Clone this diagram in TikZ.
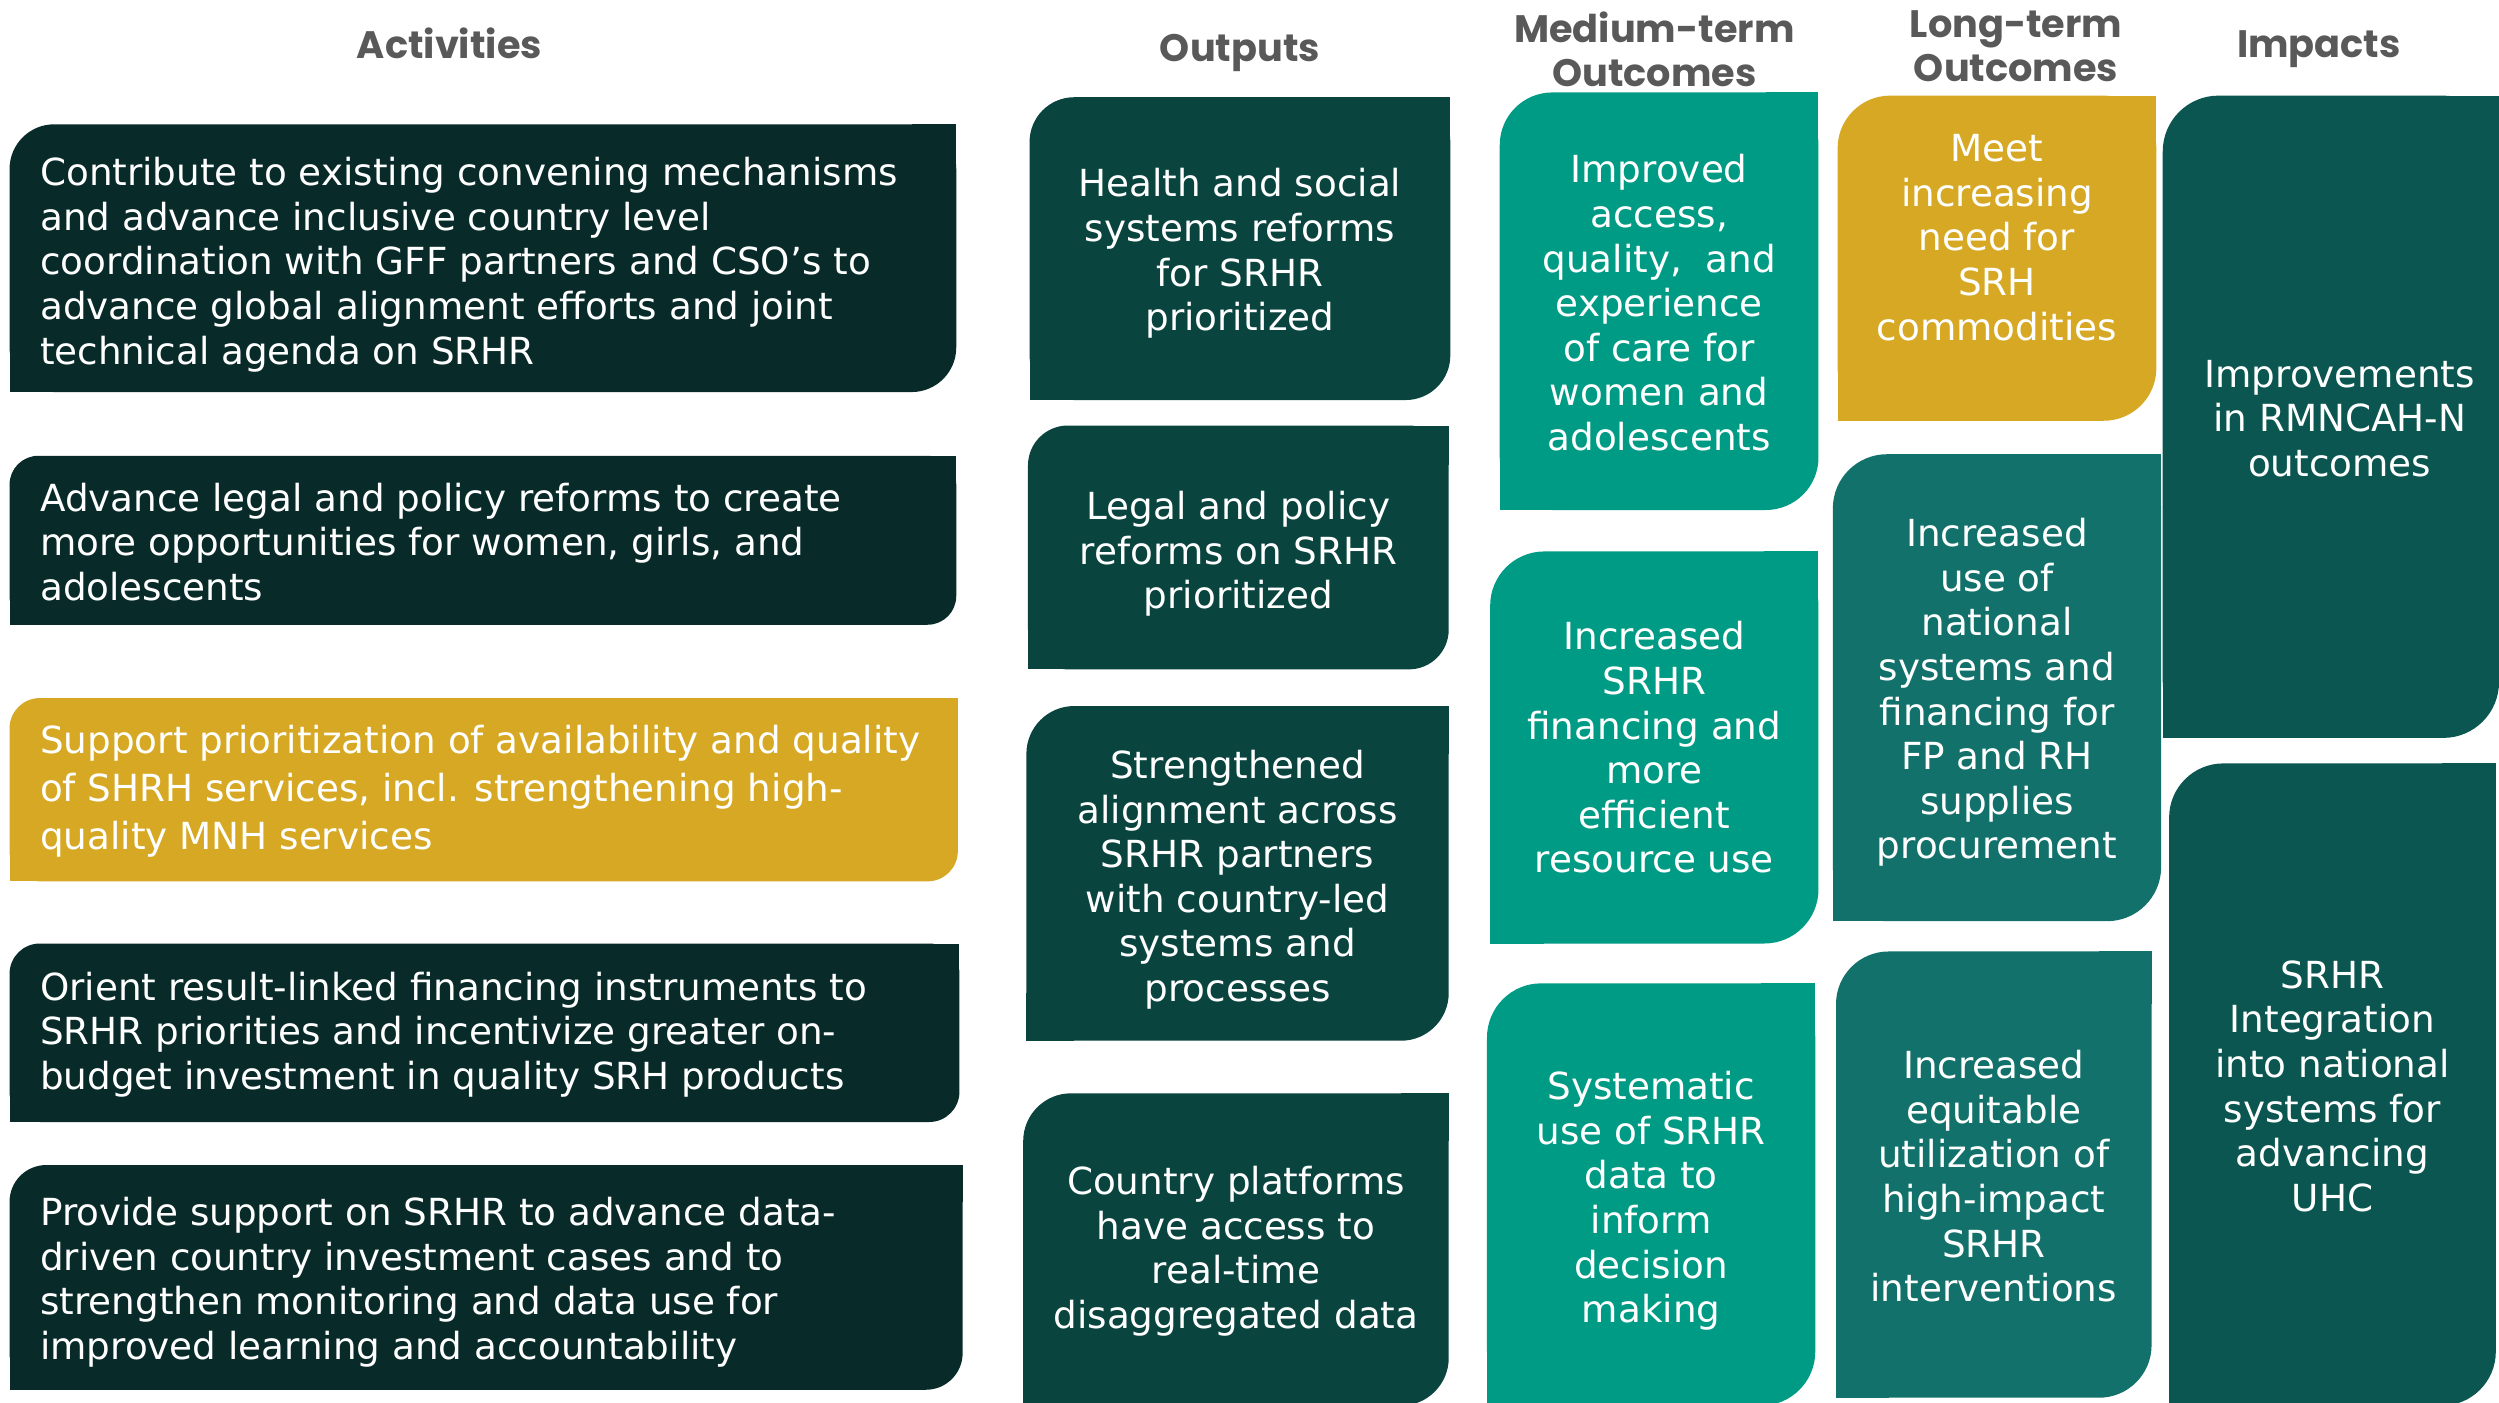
\documentclass[tikz,border=0pt]{standalone}
\usepackage{fontspec}
\setmainfont{DejaVu Sans}
\newfontfamily\headfont{Poppins}
\usetikzlibrary{calc}

\definecolor{actdark}{HTML}{082B29}
\definecolor{gold}{HTML}{D6A823}
\definecolor{outteal}{HTML}{0A443E}
\definecolor{midteal}{HTML}{009B84}
\definecolor{longteal}{HTML}{12716A}
\definecolor{impteal}{HTML}{0B5650}
\definecolor{headgrey}{HTML}{595959}

% box with rounded top left and bottom right corners: x1,y1,x2,y2,colour,radius
\newcommand{\lmbox}[6]{%
  \fill[#5, rounded corners=#6] (#1,#2) rectangle (#3,#4);
  \fill[#5] (#3,#2) rectangle ($(#3,#2)+(-#6,#6)$);
  \fill[#5] (#1,#4) rectangle ($(#1,#4)+(#6,-#6)$);
}

\tikzset{
  boxtext/.style={font=\fontsize{23.4}{28}\selectfont, text=white, inner sep=0pt},
  acttext/.style={boxtext, anchor=west, align=left},
  ctrtext/.style={boxtext, align=center},
  headtext/.style={font=\headfont\bfseries\fontsize{24}{28}\selectfont, text=headgrey, align=center, inner sep=0pt}
}

\begin{document}
\begin{tikzpicture}[x=1pt,y=1pt,yscale=-1]
\useasboundingbox (0,0) rectangle (1568,880);

%Shapes: Activities
\lmbox{6}{78}{600}{246}{actdark}{28}
\lmbox{6}{286}{600}{392}{actdark}{18}
\lmbox{6}{438}{601}{553}{gold}{19}
\lmbox{6}{592}{602}{704}{actdark}{19}
\lmbox{6}{731}{604}{872}{actdark}{23}
%Shapes: Outputs
\lmbox{646}{61}{910}{251}{outteal}{28}
\lmbox{645}{267}{909}{420}{outteal}{25}
\lmbox{644}{443}{909}{653}{outteal}{30}
\lmbox{642}{686}{909}{882}{outteal}{30}
%Shapes: Medium-term outcomes
\lmbox{941}{58}{1141}{320}{midteal}{33}
\lmbox{935}{346}{1141}{592}{midteal}{34}
\lmbox{933}{617}{1139}{882}{midteal}{34}
%Shapes: Long-term outcomes
\lmbox{1153}{60}{1353}{264}{gold}{33}
\lmbox{1150}{285}{1356}{578}{longteal}{34}
\lmbox{1152}{597}{1350}{877}{longteal}{33}
%Shapes: Impacts
\lmbox{1357}{60}{1568}{463}{impteal}{35}
\lmbox{1361}{479}{1566}{882}{impteal}{34}

% Text Node: headers
\node[headtext] (hact) at (282,27) {Activities};
\node[headtext] (hout) at (778,33) {Outputs};
\node[headtext] (hmid) at (1038,31) {Medium-term\\Outcomes};
\node[headtext] (hlong) at (1265,29) {Long-term\\Outcomes};
\node[headtext] (himp) at (1455,31) {Impacts};

% Text Node: activities
\node[acttext] (act1) at (25,166)
  {Contribute to existing convening mechanisms\\and advance inclusive country level\\coordination with GFF partners and CSO’s to\\advance global alignment efforts and joint\\technical agenda on SRHR};
\node[acttext] (act2) at (25,340)
  {Advance legal and policy reforms to create\\more opportunities for women, girls, and\\adolescents};
\node[acttext, font=\fontsize{23.4}{30}\selectfont] (act3) at (25,496.5)
  {Support prioritization of availability and quality\\of SHRH services, incl. strengthening high-\\quality MNH services};
\node[acttext] (act4) at (25,649)
  {Orient result-linked financing instruments to\\SRHR priorities and incentivize greater on-\\budget investment in quality SRH products};
\node[acttext] (act5) at (25,804.5)
  {Provide support on SRHR to advance data-\\driven country investment cases and to\\strengthen monitoring and data use for\\improved learning and accountability};

% Text Node: outputs
\node[ctrtext] (out1) at (778,159)
  {Health and social\\systems reforms\\for SRHR\\prioritized};
\node[ctrtext] (out2) at (777,347.5)
  {Legal and policy\\reforms on SRHR\\prioritized};
\node[ctrtext] (out3) at (776.5,552)
  {Strengthened\\alignment across\\SRHR partners\\with country-led\\systems and\\processes};
\node[ctrtext] (out4) at (775.5,785)
  {Country platforms\\have access to\\real-time\\disaggregated data};

% Text Node: medium-term outcomes
\node[ctrtext] (mid1) at (1041,190)
  {Improved\\access,\\quality,\ \ and\\experience\\of care for\\women and\\adolescents};
\node[ctrtext] (mid2) at (1038,469)
  {Increased\\SRHR\\financing and\\more\\efficient\\resource use};
\node[ctrtext] (mid3) at (1036,753.5)
  {Systematic\\use of SRHR\\data to\\inform\\decision\\making};

% Text Node: long-term outcomes
\node[ctrtext] (long1) at (1253,149)
  {Meet\\increasing\\need for\\SRH\\commodities};
\node[ctrtext] (long2) at (1253,434.5)
  {Increased\\use of\\national\\systems and\\financing for\\FP and RH\\supplies\\procurement};
\node[ctrtext] (long3) at (1251,738)
  {Increased\\equitable\\utilization of\\high-impact\\SRHR\\interventions};

% Text Node: impacts
\node[ctrtext] (imp1) at (1468,262.5)
  {Improvements\\in RMNCAH-N\\outcomes};
\node[ctrtext] (imp2) at (1463.5,681.5)
  {SRHR\\Integration\\into national\\systems for\\advancing\\UHC};

\end{tikzpicture}
\end{document}
